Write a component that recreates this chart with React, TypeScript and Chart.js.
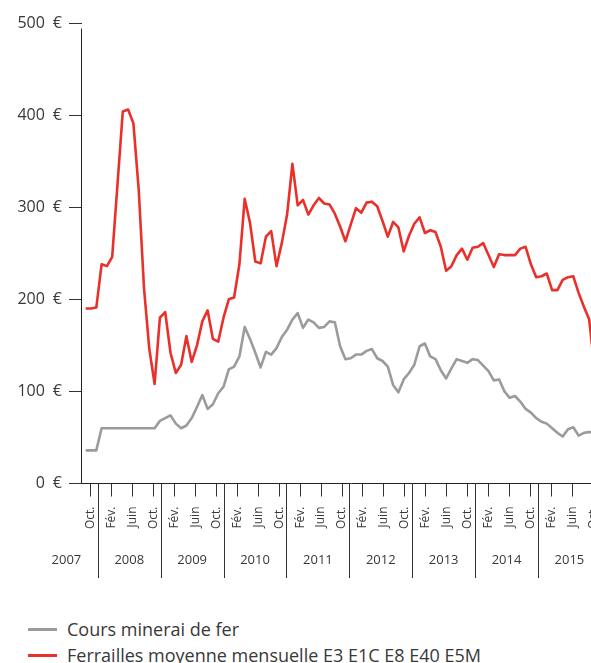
import React, { useEffect, useRef } from "react";
import { Chart, registerables } from "chart.js";

Chart.register(...registerables);

// ---- data -------------------------------------------------------------
const START_YEAR = 2007;
const START_MONTH = 9; // first monthly value: September 2007

// Ferrailles moyenne mensuelle E3 E1C E8 E40 E5M (€/t), monthly from Sep 2007
const scrapPrices = [
  190, 190, 191, 238, 236, 246, 325, 404, 406, 391, 319, 212,
  146, 108, 180, 186, 142, 120, 129, 160, 132, 150, 176, 188,
  157, 154, 180, 200, 202, 238, 309, 283, 241, 239, 268, 274,
  236, 261, 292, 347, 302, 308, 292, 302, 310, 304, 303, 293,
  279, 263, 281, 299, 294, 305, 306, 301, 285, 268, 284, 278,
  252, 269, 282, 289, 272, 275, 273, 257, 231, 236, 248, 255,
  243, 256, 257, 261, 248, 235, 249, 248, 248, 248, 255, 257,
  238, 224, 225, 228, 210, 210, 221, 224, 225, 207, 192, 178,
  125,
];

// Cours minerai de fer (€/t), monthly from Sep 2007
const orePrices = [
  36, 36, 36, 60, 60, 60, 60, 60, 60, 60, 60, 60,
  60, 60, 68, 71, 74, 65, 60, 63, 71, 83, 96, 81,
  86, 98, 105, 124, 127, 138, 170, 157, 142, 126, 143, 140,
  147, 159, 167, 178, 185, 169, 178, 175, 169, 170, 176, 175,
  149, 135, 136, 140, 140, 144, 146, 136, 133, 127, 107, 99,
  113, 120, 129, 149, 152, 138, 135, 123, 114, 125, 135, 133,
  131, 135, 134, 128, 122, 112, 113, 100, 93, 95, 89, 81,
  77, 71, 67, 65, 60, 55, 51, 59, 61, 52, 55, 56,
  55,
];

const seriesLabels = [
  "Cours minerai de fer",
  "Ferrailles moyenne mensuelle E3 E1C E8 E40 E5M",
];
const seriesColors = ["#9b9b9b", "#e9302a"];

const monthTickLabels: Record<number, string> = { 2: "Fév.", 6: "Juin", 10: "Oct." };
const years = [2007, 2008, 2009, 2010, 2011, 2012, 2013, 2014, 2015];
const yTickValues = [0, 100, 200, 300, 400, 500];
const currency = "€";

// ---- helpers ----------------------------------------------------------
const monthOf = (k: number) => ((START_MONTH - 1 + Math.round(k)) % 12) + 1;
const indexOfJanuary = (year: number) => (year - START_YEAR) * 12 + (1 - START_MONTH);
const lastIndex = scrapPrices.length;
const calendarTicks: number[] = [];
for (let k = 0; k <= lastIndex; k++) {
  if (monthTickLabels[monthOf(k)]) calendarTicks.push(k);
}

const TEXT = "#383838";
const FONT = "'Open Sans', 'Noto Sans', sans-serif";

const yearPlugin = {
  id: "yearBands",
  afterDraw(chart: any) {
    const { ctx, chartArea } = chart;
    const cal = chart.scales.cal;
    const y = chart.scales.y;
    ctx.save();
    // vertical axis line
    ctx.strokeStyle = "#222";
    ctx.lineWidth = 1;
    const ax = Math.round(chartArea.left) - 0.5;
    ctx.beginPath();
    ctx.moveTo(ax, y.getPixelForValue(494));
    ctx.lineTo(ax, chartArea.bottom);
    ctx.stroke();

    // year separators and labels
    ctx.strokeStyle = "#333";
    ctx.fillStyle = TEXT;
    ctx.font = `13px ${FONT}`;
    ctx.textAlign = "center";
    ctx.textBaseline = "middle";
    const sep = (yr: number) => cal.getPixelForValue(indexOfJanuary(yr) - 1.6);
    years.forEach((yr) => {
      const x0 = sep(yr);
      const x1 = sep(yr + 1);
      if (yr !== years[0]) {
        const sx = Math.round(x0) + 0.5;
        ctx.beginPath();
        ctx.moveTo(sx, cal.top);
        ctx.lineTo(sx, cal.top + 94.5);
        ctx.stroke();
      }
      ctx.fillText(String(yr), (x0 + x1) / 2, cal.top + 77);
    });
    ctx.restore();
  },
};

export default function App() {
  const canvasRef = useRef<HTMLCanvasElement | null>(null);

  useEffect(() => {
    if (!canvasRef.current) return;
    const chart = new Chart(canvasRef.current, {
      type: "line",
      data: {
        datasets: [
          {
            label: seriesLabels[0],
            data: orePrices.map((v, k) => ({ x: k, y: v })),
            borderColor: seriesColors[0],
            borderWidth: 2.6,
            pointRadius: 0,
            tension: 0,
            borderJoinStyle: "round",
            xAxisID: "x",
            yAxisID: "y",
          },
          {
            label: seriesLabels[1],
            data: scrapPrices.map((v, k) => ({ x: k, y: v })),
            borderColor: seriesColors[1],
            borderWidth: 2.6,
            pointRadius: 0,
            tension: 0,
            borderJoinStyle: "round",
            xAxisID: "x",
            yAxisID: "y",
          },
        ],
      },
      options: {
        animation: false,
        responsive: true,
        maintainAspectRatio: false,
        layout: { padding: { top: 23, left: 0, right: 0, bottom: 0 } },
        plugins: { legend: { display: false }, tooltip: { enabled: false } },
        scales: {
          x: { type: "linear", display: false, min: -0.7, max: 100.81 },
          cal: {
            type: "linear",
            position: "bottom",
            min: -0.62,
            max: 102.05,
            afterBuildTicks: (s: any) => {
              s.ticks = calendarTicks.map((v) => ({ value: v }));
            },
            afterFit: (s: any) => {
              s.height = 106.5;
            },
            ticks: {
              autoSkip: false,
              minRotation: 90,
              maxRotation: 90,
              padding: 10,
              color: TEXT,
              font: { family: FONT, size: 12 },
              callback: (v: any) => monthTickLabels[monthOf(Number(v))] || "",
            },
            grid: {
              drawOnChartArea: false,
              drawTicks: true,
              tickLength: 13,
              color: "#333",
              lineWidth: 1,
            },
            border: { display: true, color: "#222", width: 1 },
          },
          y: {
            type: "linear",
            min: 0,
            max: 500,
            afterBuildTicks: (s: any) => {
              s.ticks = yTickValues.map((v) => ({ value: v }));
            },
            afterFit: (s: any) => {
              s.width = 82;
            },
            ticks: {
              padding: 7,
              color: TEXT,
              font: { family: FONT, size: 16 },
              callback: (v: any) => `${v}\u2002${currency}`,
            },
            grid: {
              drawOnChartArea: false,
              drawTicks: true,
              tickLength: 13,
              color: "#333",
              lineWidth: 1,
            },
            border: { display: false },
          },
        },
      },
      plugins: [yearPlugin],
    } as any);
    return () => chart.destroy();
  }, []);

  return (
    <div
      style={{
        position: "fixed",
        left: 0,
        top: 0,
        width: 591,
        height: 663,
        overflow: "hidden",
        background: "#fff",
      }}
    >
      <div style={{ position: "absolute", left: 0, top: 0, width: 620, height: 590 }}>
        <canvas ref={canvasRef} />
      </div>
      <div
        style={{
          position: "absolute",
          left: 28,
          top: 616,
          fontFamily: FONT,
          fontSize: 18,
          color: TEXT,
          whiteSpace: "nowrap",
        }}
      >
        {seriesLabels.map((label, i) => (
          <div key={label} style={{ display: "flex", alignItems: "center", height: 26 }}>
            <span
              style={{
                display: "inline-block",
                width: 29,
                height: 3,
                background: seriesColors[i],
                marginRight: 10,
              }}
            />
            <span>{label}</span>
          </div>
        ))}
      </div>
    </div>
  );
}
